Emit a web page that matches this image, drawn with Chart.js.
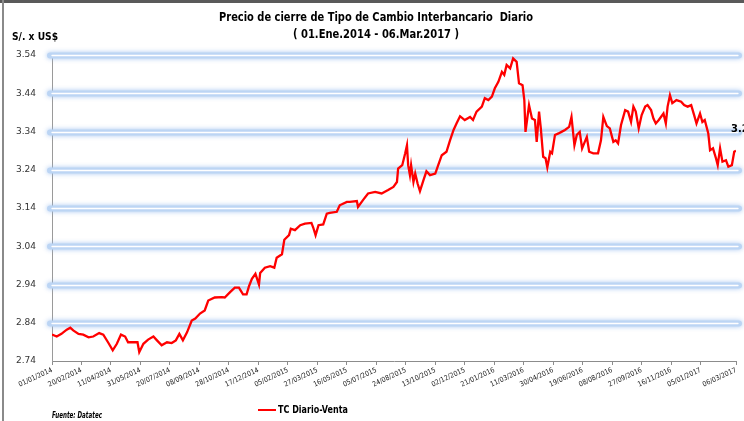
<!DOCTYPE html>
<html>
<head>
<meta charset="utf-8">
<title>Tipo de Cambio Interbancario</title>
<script src="https://cdn.jsdelivr.net/npm/chart.js@4.4.1/dist/chart.umd.min.js"></script>
<style>
    html, body { margin: 0; padding: 0; background: #ffffff; }
    #wrap { width: 744px; height: 421px; position: relative; }
</style>
</head>
<body>
<div id="wrap"><canvas id="tcChart" width="744" height="421"></canvas></div>
<script>
// 数据: dias = días desde 01/01/2014, tcVenta = S/. x US$
const dias = [
    0, 8, 16, 25, 31, 36, 45, 53, 62, 70,
    80, 87, 95, 103, 110, 117, 124, 129, 138, 145,
    148, 155, 163, 172, 178, 186, 195, 203, 210, 216,
    222, 229, 237, 243, 251, 259, 265, 276, 288, 293,
    302, 310, 317, 324, 330, 334, 339, 345, 351, 353,
    361, 370, 377, 381, 390, 394, 402, 405, 412, 421,
    429, 440, 443, 447, 452, 460, 466, 471, 483, 488,
    500, 505, 517, 519, 528, 536, 548, 559, 570, 579,
    585, 587, 594, 599, 602, 604, 607, 609, 613, 616,
    620, 624, 630, 635, 641, 650, 655, 661, 669, 675,
    681, 686, 692, 700, 709, 714, 720, 729, 734, 740,
    746, 751, 757, 763, 767, 771, 777, 782, 788, 792,
    798, 801, 803, 806, 809, 814, 819, 822, 826, 829,
    833, 837, 840, 845, 848, 853, 859, 864, 870, 877,
    881, 886, 890, 895, 899, 907, 911, 918, 926, 931,
    935, 941, 946, 952, 956, 960, 965, 972, 977, 982,
    986, 990, 995, 1000, 1006, 1010, 1016, 1020, 1024, 1029,
    1037, 1041, 1044, 1048, 1052, 1059, 1067, 1072, 1078, 1084,
    1089, 1093, 1099, 1103, 1107, 1113, 1116, 1121, 1126, 1129,
    1133, 1137, 1143, 1147, 1153, 1157, 1160
];
const tcVenta = [
    2.809, 2.804, 2.811, 2.822, 2.827, 2.820, 2.811, 2.809, 2.802, 2.804,
    2.813, 2.809, 2.789, 2.768, 2.785, 2.809, 2.804, 2.789, 2.789, 2.789,
    2.763, 2.785, 2.796, 2.804, 2.794, 2.781, 2.789, 2.787, 2.794, 2.811,
    2.794, 2.815, 2.846, 2.851, 2.864, 2.872, 2.898, 2.906, 2.907, 2.906,
    2.920, 2.932, 2.932, 2.914, 2.914, 2.935, 2.955, 2.968, 2.940, 2.970,
    2.984, 2.988, 2.984, 3.010, 3.019, 3.057, 3.069, 3.086, 3.082, 3.095,
    3.099, 3.101, 3.089, 3.069, 3.095, 3.097, 3.125, 3.127, 3.130, 3.147,
    3.156, 3.156, 3.158, 3.143, 3.162, 3.178, 3.182, 3.178, 3.187, 3.195,
    3.208, 3.243, 3.252, 3.283, 3.304, 3.252, 3.226, 3.252, 3.208, 3.230,
    3.204, 3.184, 3.213, 3.236, 3.226, 3.230, 3.252, 3.278, 3.287, 3.317,
    3.344, 3.361, 3.380, 3.370, 3.378, 3.370, 3.392, 3.405, 3.427, 3.422,
    3.431, 3.453, 3.470, 3.496, 3.488, 3.514, 3.505, 3.531, 3.522, 3.466,
    3.461, 3.422, 3.339, 3.374, 3.409, 3.374, 3.370, 3.313, 3.392, 3.348,
    3.274, 3.270, 3.246, 3.287, 3.283, 3.331, 3.335, 3.339, 3.344, 3.352,
    3.378, 3.304, 3.331, 3.339, 3.296, 3.326, 3.287, 3.283, 3.283, 3.317,
    3.378, 3.354, 3.348, 3.313, 3.317, 3.309, 3.357, 3.396, 3.392, 3.365,
    3.405, 3.392, 3.348, 3.383, 3.405, 3.409, 3.396, 3.374, 3.361, 3.370,
    3.387, 3.361, 3.405, 3.435, 3.414, 3.422, 3.418, 3.409, 3.405, 3.409,
    3.383, 3.361, 3.387, 3.365, 3.370, 3.335, 3.291, 3.296, 3.270, 3.252,
    3.296, 3.261, 3.265, 3.248, 3.252, 3.287, 3.290
];

// 坐标轴刻度
const yTicks = [2.74, 2.84, 2.94, 3.04, 3.14, 3.24, 3.34, 3.44, 3.54];
const xTickDays = [0, 50, 100, 150, 200, 250, 300, 350, 400, 450, 500, 550,
    600, 650, 700, 750, 800, 850, 900, 950, 1000, 1050, 1100, 1160];

const titulo1 = 'Precio de cierre de Tipo de Cambio Interbancario  Diario';
const titulo2 = '( 01.Ene.2014 - 06.Mar.2017 )';
const unidad = 'S/. x US$';
const serieNombre = 'TC Diario-Venta';
const fuente = 'Fuente: Datatec';

const NARROW = '"Liberation Sans Narrow", "DejaVu Sans Condensed", "Noto Sans", sans-serif';
const T0 = Date.UTC(2014, 0, 1);

// 日期格式 dd/mm/yyyy
function fmtFecha(d) {
    const f = new Date(T0 + d * 86400000);
    const dd = String(f.getUTCDate()).padStart(2, '0');
    const mm = String(f.getUTCMonth() + 1).padStart(2, '0');
    return dd + '/' + mm + '/' + f.getUTCFullYear();
}

// 蓝色发光网格线
const glowGrid = {
    id: 'glowGrid',
    beforeDatasetsDraw(chart) {
        const ctx = chart.ctx;
        const y = chart.scales.y;
        ctx.save();
        y.ticks.forEach(t => {
            if (t.value <= yTicks[0] + 0.001) return;
            const py = Math.round(y.getPixelForValue(t.value)) + 0.5;
            ctx.lineCap = 'round';
            ctx.shadowColor = 'rgba(150,188,238,0.85)';
            ctx.shadowBlur = 5;
            ctx.strokeStyle = '#bcd5f4';
            ctx.lineWidth = 6;
            ctx.beginPath();
            ctx.moveTo(50, py);
            ctx.lineTo(739, py);
            ctx.stroke();
            ctx.shadowBlur = 0;
            ctx.shadowColor = 'transparent';
            ctx.strokeStyle = '#ffffff';
            ctx.lineWidth = 1.3;
            ctx.beginPath();
            ctx.moveTo(52, py);
            ctx.lineTo(738, py);
            ctx.stroke();
        });
        ctx.restore();
    }
};

// 标题、图例、来源、数据标签
const extras = {
    id: 'extras',
    afterDraw(chart) {
        const ctx = chart.ctx;
        ctx.save();
        // marco
        ctx.fillStyle = '#5a5a5a';
        ctx.fillRect(0, 0, 744, 3);
        ctx.fillStyle = '#8a8a8a';
        ctx.fillRect(2, 0, 2, 421);

        ctx.fillStyle = '#000000';
        ctx.textBaseline = 'middle';
        ctx.textAlign = 'center';
        ctx.font = 'bold 12px ' + NARROW;
        ctx.fillText(titulo1, 376, 18, 314);
        ctx.fillText(titulo2, 376, 35, 166);

        ctx.textAlign = 'left';
        ctx.font = 'bold 11px ' + NARROW;
        ctx.fillText(unidad, 12, 37, 46);

        // etiqueta del último dato
        const meta = chart.getDatasetMeta(0);
        const ult = meta.data[meta.data.length - 1];
        ctx.font = 'bold 11px ' + NARROW;
        ctx.fillText(tcVenta[tcVenta.length - 1].toFixed(2), ult.x - 5, ult.y - 21);

        // leyenda
        ctx.strokeStyle = '#ff0000';
        ctx.lineWidth = 2;
        ctx.beginPath();
        ctx.moveTo(258, 410);
        ctx.lineTo(276, 410);
        ctx.stroke();
        ctx.font = 'bold 10px ' + NARROW;
        ctx.fillText(serieNombre, 278, 410, 70);

        ctx.font = 'italic bold 8px ' + NARROW;
        ctx.fillText(fuente, 52, 416, 50);
        ctx.restore();
    }
};

let tcChart = null;

function initChart() {
    const ctx = document.getElementById('tcChart').getContext('2d');
    const puntos = dias.map((d, i) => ({ x: d, y: tcVenta[i] }));

    tcChart = new Chart(ctx, {
        type: 'line',
        data: {
            datasets: [{
                label: serieNombre,
                data: puntos,
                borderColor: '#ff0000',
                borderWidth: 2.3,
                pointRadius: 0,
                tension: 0,
                fill: false
            }]
        },
        options: {
            responsive: false,
            animation: false,
            devicePixelRatio: 1,
            layout: { padding: { top: 55, right: 8, left: 0, bottom: 0 } },
            plugins: {
                legend: { display: false },
                title: { display: false },
                tooltip: { enabled: false }
            },
            scales: {
                x: {
                    type: 'linear',
                    min: 0,
                    max: 1160,
                    afterBuildTicks: (scale) => {
                        scale.ticks = xTickDays.map(v => ({ value: v }));
                    },
                    afterFit: (scale) => { scale.height = 60; },
                    ticks: {
                        autoSkip: false,
                        minRotation: 25,
                        maxRotation: 25,
                        padding: 1,
                        color: '#222',
                        font: { family: NARROW, size: 7 },
                        callback: (v) => fmtFecha(v)
                    },
                    grid: {
                        display: true,
                        drawOnChartArea: false,
                        drawTicks: true,
                        tickLength: 4,
                        color: '#8c8c8c'
                    },
                    border: { display: true, color: '#8c8c8c', width: 1 }
                },
                y: {
                    min: 2.74,
                    max: 3.54,
                    afterBuildTicks: (scale) => {
                        scale.ticks = yTicks.map(v => ({ value: v }));
                    },
                    afterFit: (scale) => { scale.width = 52; },
                    ticks: {
                        padding: 8,
                        color: '#333',
                        font: { family: '"DejaVu Sans", sans-serif', size: 9 },
                        callback: (v) => Number(v).toFixed(2)
                    },
                    grid: { display: false },
                    border: { display: true, color: '#9a9a9a', width: 1, dash: [1, 1] }
                }
            }
        },
        plugins: [glowGrid, extras]
    });
}

document.addEventListener('DOMContentLoaded', function() {
    initChart();
});
</script>
</body>
</html>
